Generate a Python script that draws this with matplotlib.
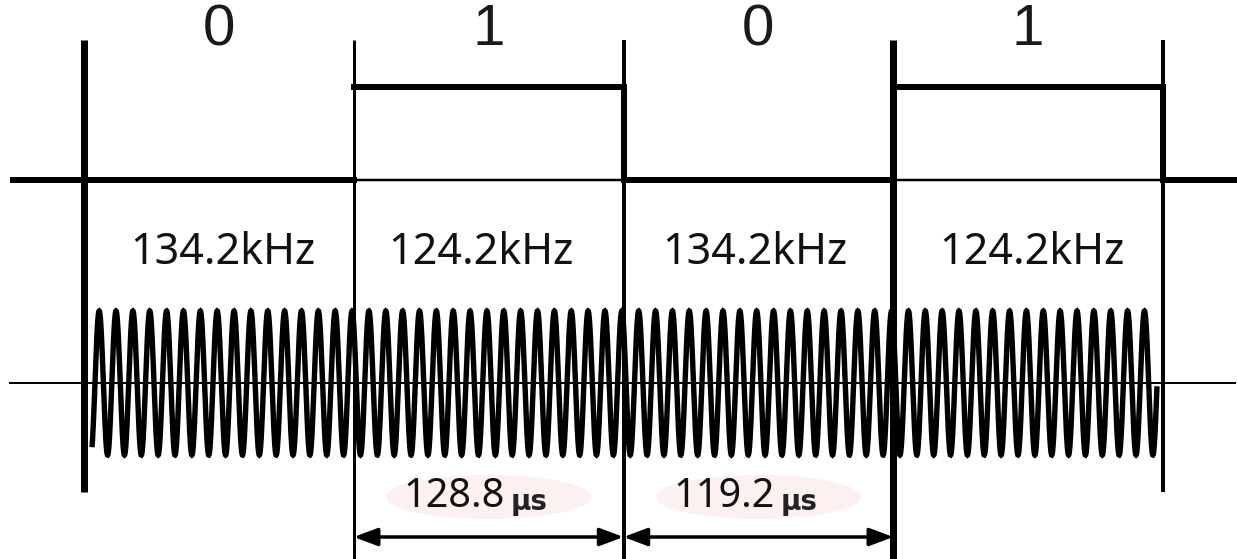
import numpy as np
import matplotlib
matplotlib.use("Agg")
import matplotlib.pyplot as plt
from matplotlib.patches import Ellipse

# ---- data ----
bits = [0, 1, 0, 1]
bit_labels = ["0", "1", "0", "1"]
freqs_khz = [134.2, 124.2, 134.2, 124.2]
freq_labels = ["134.2kHz", "124.2kHz", "134.2kHz", "124.2kHz"]
durations_us = [128.8, 119.2]          # one bit period at 124.2 / 134.2 kHz
duration_labels = ["128.8", "119.2"]
duration_bits = [1, 2]                 # bit index each dimension spans

W, H = 1237, 559
fig = plt.figure(figsize=(W / 100, H / 100), dpi=100)
ax = fig.add_axes([0, 0, 1, 1])
ax.axis("off")

# layout: x in bit units, y in pixel rows
X0, BW = 84.0, 269.75
def u(px):
    return (px - X0) / BW
def du(px):
    return px / BW

ax.set_xlim(u(0), u(W))
ax.set_ylim(H, 0)

LOW, HIGH = 180, 87
MID, AMP = 383, 72
PX = 0.72  # points per pixel
n = len(bits)
FONT = ["Noto Sans", "DejaVu Sans"]

# bit boundary lines
bound_lw = [7, 3, 4, 7, 4]
bound_bottom = [492, H, H, H, 492]
for i in range(n + 1):
    ax.plot([i, i], [40, bound_bottom[i]], color="black", lw=bound_lw[i] * PX,
            solid_capstyle="butt")

# NRZ digital signal
ax.plot([u(10), 0], [LOW, LOW], color="black", lw=6 * PX, solid_capstyle="butt")
ax.plot([n, u(W)], [LOW, LOW], color="black", lw=6 * PX, solid_capstyle="butt")
for i, b in enumerate(bits):
    if b == 0:
        ax.plot([i, i + 1], [LOW, LOW], color="black", lw=6 * PX, solid_capstyle="projecting")
    else:
        ax.plot([i, i + 1], [LOW, LOW], color="black", lw=2.5 * PX, solid_capstyle="butt")
        ax.plot([i, i + 1], [HIGH, HIGH], color="black", lw=6 * PX, solid_capstyle="projecting")
        ax.plot([i, i], [HIGH, LOW], color="black", lw=3 * PX, solid_capstyle="butt")
        ax.plot([i + 1, i + 1], [HIGH, LOW], color="black", lw=6 * PX, solid_capstyle="projecting")

# bit value labels
for i, lab in enumerate(bit_labels):
    ax.text(i + 0.5, 30, lab, ha="center", va="center", fontsize=42,
            family="Liberation Sans", color="#1a1a1a")

# frequency labels
freq_dx = [4, -8, -4, 4]
for i, lab in enumerate(freq_labels):
    ax.text(i + 0.5 + du(freq_dx[i]), 253, lab, ha="center", va="center",
            fontsize=31, family=FONT, color="#111111")

# FSK carrier: integer number of cycles per bit (freq * bit period)
period_for = {124.2: 128.8, 134.2: 119.2}
ax.plot([u(10), u(W - 2)], [MID, MID], color="black", lw=2 * PX)
xs_all, ys_all = [], []
for i, f in enumerate(freqs_khz):
    cycles = round(f * period_for[f] / 1000.0)
    t = np.linspace(0, 1, 3000, endpoint=False)
    xs_all.append(i + t)
    ys_all.append(MID - AMP * np.sin(2 * np.pi * cycles * t + 2.2))
xs = np.concatenate(xs_all)
ys = np.concatenate(ys_all)
m = (xs >= u(X0 + 8)) & (xs <= n - du(6))
ax.plot(xs[m], ys[m], color="black", lw=5.4 * PX, solid_joinstyle="miter",
        solid_capstyle="butt")

# dimension arrows
for k, (lab, bi) in enumerate(zip(duration_labels, duration_bits)):
    ax.add_patch(Ellipse((bi + 0.5, 497), du(205), 44, facecolor="#fcf0f0",
                         edgecolor="none", zorder=0))
    ax.text(bi + 0.5 + du(16), 497, lab, ha="right", va="center", fontsize=28.5,
            family=FONT, color="#111111")
    ax.text(bi + 0.5 + du(22), 502, "μs", ha="left", va="center", fontsize=20,
            family="DejaVu Sans", color="#222222", fontweight="bold")
    ax.annotate("", xy=(bi, 537), xytext=(bi + 1, 537),
                arrowprops=dict(arrowstyle="<|-|>,head_length=1.2,head_width=0.45",
                                color="black", lw=3.5 * PX, shrinkA=0, shrinkB=0,
                                mutation_scale=12))

fig.savefig("out.png", dpi=100, facecolor="white")
